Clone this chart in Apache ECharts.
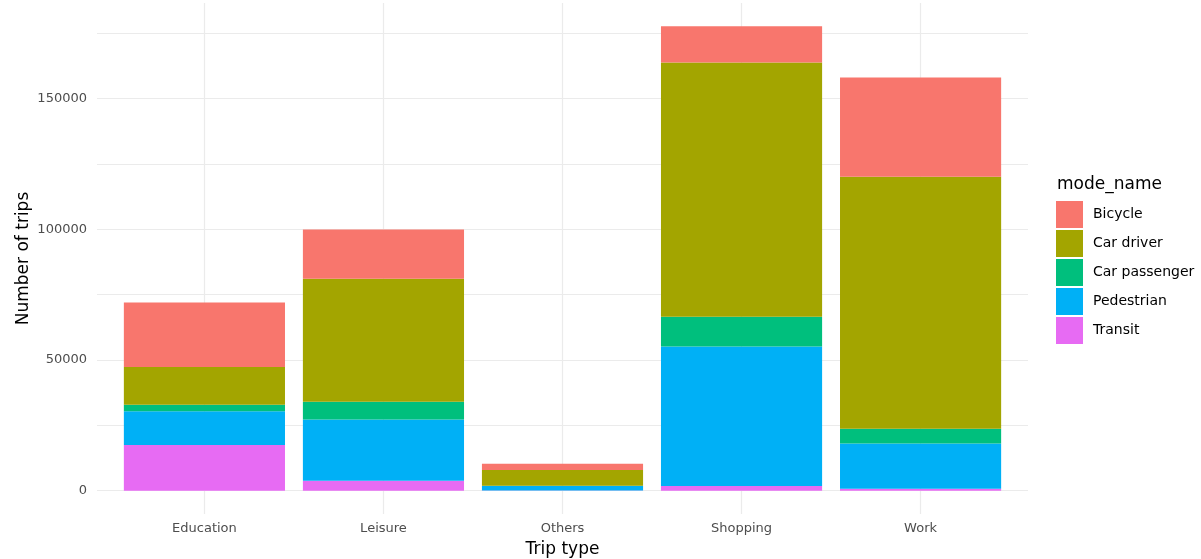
<!DOCTYPE html>
<html>
<head>
<meta charset="utf-8">
<script src="https://cdn.jsdelivr.net/npm/echarts@6/dist/echarts.min.js"></script>
<style>html,body{margin:0;padding:0;background:#fff;}#c{width:1201px;height:559px;}</style>
</head>
<body>
<div id="c"></div>
<script>
var categories = ['Education', 'Leisure', 'Others', 'Shopping', 'Work'];
var legendOrder = ['Bicycle', 'Car driver', 'Car passenger', 'Pedestrian', 'Transit'];
var transit = [17500, 3800, 100, 1800, 800];
var pedestrian = [12900, 23500, 1700, 53400, 17300];
var carPassenger = [2500, 6700, 100, 11400, 5600];
var carDriver = [14400, 47100, 6000, 97200, 96400];
var bicycle = [24700, 18800, 2400, 13900, 38000];
var yTickLabels = [0, 50000, 100000, 150000];
var colors = {
  'Bicycle': '#F8766D',
  'Car driver': '#A3A500',
  'Car passenger': '#00BF7D',
  'Pedestrian': '#00B0F6',
  'Transit': '#E76BF3'
};
var FONT = 'DejaVu Sans';

// value first, category position second, so the stack runs along y
function pairs(arr) { return arr.map(function (v, i) { return [v, i + 1]; }); }
function mk(name, arr) {
  return {
    name: name, type: 'bar', stack: 'total', barWidth: '90%',
    encode: { x: 1, y: 0 },
    itemStyle: { color: colors[name] },
    emphasis: { disabled: true },
    data: pairs(arr)
  };
}

var chart = echarts.init(document.getElementById('c'), null, { renderer: 'canvas' });
chart.setOption({
  animation: false,
  backgroundColor: '#ffffff',
  textStyle: { fontFamily: FONT },
  title: {
    text: 'mode_name', left: 1052, top: 171,
    textStyle: { fontFamily: FONT, fontSize: 17, fontWeight: 'normal', color: '#000000' }
  },
  legend: {
    data: legendOrder, orient: 'vertical', left: 1051, top: 196,
    itemWidth: 27, itemHeight: 27, itemGap: 2, icon: 'rect',
    textStyle: { fontFamily: FONT, fontSize: 14, color: '#000000', padding: [0, 0, 0, 5] },
    selectedMode: false
  },
  grid: { left: 97, right: 173, top: 3, bottom: 45, containLabel: false, outerBoundsMode: 'none' },
  xAxis: {
    type: 'value', min: 0.4, max: 5.6, minInterval: 1, maxInterval: 1,
    name: 'Trip type', nameLocation: 'middle', nameGap: 27, nameMoveOverlap: false,
    nameTextStyle: { fontFamily: FONT, fontSize: 17, color: '#000000' },
    axisLine: { show: false }, axisTick: { show: false },
    axisLabel: {
      fontFamily: FONT, fontSize: 13, color: '#4d4d4d', margin: 8,
      showMinLabel: false, showMaxLabel: false,
      formatter: function (v) {
        var r = Math.round(v);
        return (Math.abs(v - r) < 1e-6 && r >= 1 && r <= categories.length) ? categories[r - 1] : '';
      }
    },
    splitLine: { show: true, showMinLine: false, showMaxLine: false, lineStyle: { color: '#ebebeb', width: 1.2 } }
  },
  yAxis: {
    type: 'value', min: -8900, max: 186600, minInterval: 25000, maxInterval: 25000,
    name: 'Number of trips', nameLocation: 'middle', nameGap: 65, nameMoveOverlap: false,
    nameTextStyle: { fontFamily: FONT, fontSize: 17, color: '#000000' },
    axisLine: { show: false }, axisTick: { show: false },
    axisLabel: {
      fontFamily: FONT, fontSize: 13, color: '#4d4d4d', margin: 10,
      showMinLabel: false, showMaxLabel: false,
      formatter: function (v) { return yTickLabels.indexOf(v) >= 0 ? String(v) : ''; }
    },
    splitLine: { show: true, showMinLine: false, showMaxLine: false, lineStyle: { color: '#ebebeb', width: 1.2 } }
  },
  series: [
    mk('Transit', transit),
    mk('Pedestrian', pedestrian),
    mk('Car passenger', carPassenger),
    mk('Car driver', carDriver),
    mk('Bicycle', bicycle)
  ]
});
</script>
</body>
</html>
